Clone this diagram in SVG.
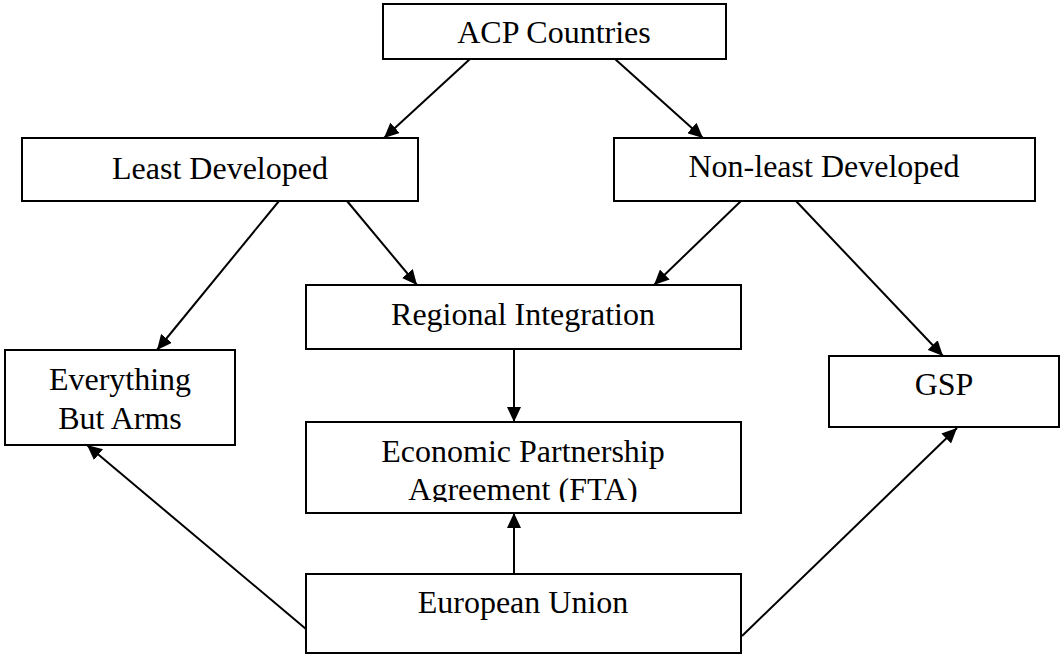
<svg xmlns="http://www.w3.org/2000/svg" width="1062" height="656" viewBox="0 0 1062 656">
  <style>
    .box { fill: #fff; stroke: #000; stroke-width: 2; }
    .lbl { font-family: "Liberation Serif", "Times New Roman", serif; font-size: 32px; fill: #000; text-anchor: middle; }
    .link { stroke: #000; stroke-width: 2; fill: none; marker-end: url(#head); }
  </style>
  <defs>
    <marker id="head" markerUnits="userSpaceOnUse" markerWidth="16" markerHeight="14" refX="15" refY="7" orient="auto">
      <path d="M0,0 L15,7 L0,14 z" fill="#000"/>
    </marker>
    <clipPath id="epaClip">
      <rect x="306" y="422" width="435" height="80"/>
    </clipPath>
  </defs>
  <rect width="1062" height="656" fill="#fff"/>

  <g id="connectors">
    <line class="link" x1="470" y1="59" x2="384" y2="138"/>
    <line class="link" x1="615" y1="59" x2="703" y2="138"/>
    <line class="link" x1="279" y1="201" x2="157" y2="350"/>
    <line class="link" x1="347" y1="201" x2="417" y2="285"/>
    <line class="link" x1="741" y1="201" x2="654" y2="285"/>
    <line class="link" x1="796" y1="201" x2="943" y2="356"/>
    <line class="link" x1="514" y1="349" x2="514" y2="422"/>
    <line class="link" x1="514" y1="574" x2="514" y2="513"/>
    <line class="link" x1="306" y1="629" x2="87" y2="445"/>
    <line class="link" x1="742" y1="636" x2="957" y2="428"/>
  </g>

  <g id="acp">
    <rect class="box" x="383" y="4" width="343" height="55"/>
    <text class="lbl" x="554" y="43">ACP Countries</text>
  </g>
  <g id="least">
    <rect class="box" x="22" y="138" width="396" height="63"/>
    <text class="lbl" x="220" y="179">Least Developed</text>
  </g>
  <g id="nonleast">
    <rect class="box" x="614" y="138" width="421" height="63"/>
    <text class="lbl" x="824" y="177">Non-least Developed</text>
  </g>
  <g id="regional">
    <rect class="box" x="306" y="285" width="435" height="64"/>
    <text class="lbl" x="523" y="325">Regional Integration</text>
  </g>
  <g id="eba">
    <rect class="box" x="5" y="350" width="230" height="95"/>
    <text class="lbl" x="120" y="390">Everything</text>
    <text class="lbl" x="120" y="429">But Arms</text>
  </g>
  <g id="gsp">
    <rect class="box" x="829" y="356" width="230" height="71"/>
    <text class="lbl" x="944" y="395">GSP</text>
  </g>
  <g id="epa">
    <rect class="box" x="306" y="422" width="435" height="91"/>
    <g clip-path="url(#epaClip)">
      <text class="lbl" x="523" y="462">Economic Partnership</text>
      <text class="lbl" x="523" y="500">Agreement (FTA)</text>
    </g>
  </g>
  <g id="eu">
    <rect class="box" x="306" y="574" width="435" height="79"/>
    <text class="lbl" x="523" y="613">European Union</text>
  </g>
</svg>
